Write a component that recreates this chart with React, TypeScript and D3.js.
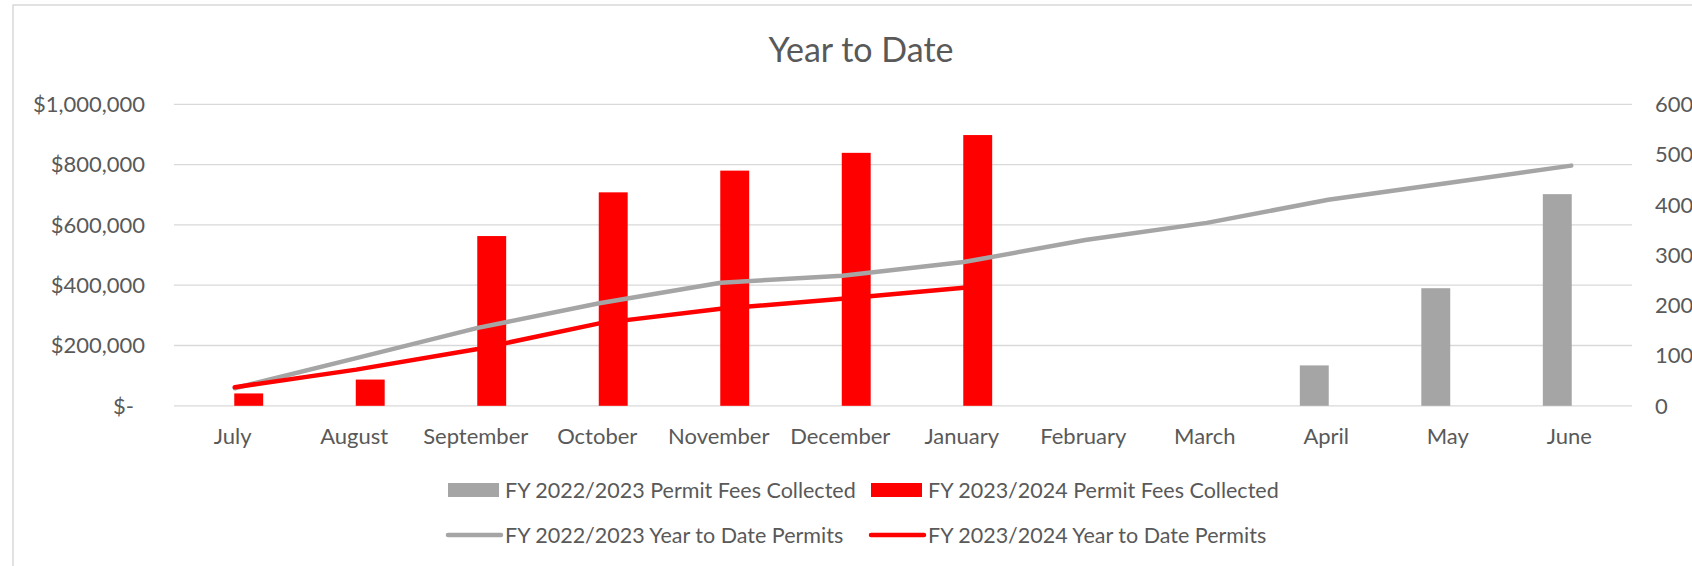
import React, { useRef, useEffect } from "react";
import * as d3 from "d3";

// chart data
const months = ["July", "August", "September", "October", "November", "December",
  "January", "February", "March", "April", "May", "June"];
const fees2223 = [null, null, null, null, null, null, null, null, null, 134000, 390000, 702000];
const fees2324 = [41000, 87000, 563000, 708000, 780000, 839000, 898000, null, null, null, null, null];
const ytd2223 = [35, 95, 155, 204, 245, 259, 286, 330, 364, 410, 444, 478];
const ytd2324 = [37, 72, 113, 164, 193, 213, 235];
const feeTicks = [0, 200000, 400000, 600000, 800000, 1000000];
const permitTicks = [0, 100, 200, 300, 400, 500, 600];
const seriesNames = [
  "FY 2022/2023 Permit Fees Collected",
  "FY 2023/2024 Permit Fees Collected",
  "FY 2022/2023 Year to Date Permits",
  "FY 2023/2024 Year to Date Permits",
];

const GRAY = "#A5A5A5";
const RED = "#FF0000";
const TEXT = "#595959";
const GRID = "#D9D9D9";
const FONT = "Lato, 'DejaVu Sans', sans-serif";

const App = () => {
  const ref = useRef<SVGSVGElement>(null);

  useEffect(() => {
    const width = 1692;
    const height = 566;
    const left = 174, right = 1632, top = 104.3, bottom = 405.8;

    const svg = d3.select(ref.current);
    svg.selectAll("*").remove();

    // chart area border (runs off the right/bottom edge like the screenshot)
    svg.append("rect")
      .attr("x", 13).attr("y", 5)
      .attr("width", width + 40).attr("height", height + 40)
      .attr("fill", "white").attr("stroke", GRID).attr("stroke-width", 1.5);

    const x = d3.scaleBand<string>().domain(months).range([left, right]);
    const bw = x.bandwidth();
    const yFee = d3.scaleLinear([0, 1000000], [bottom, top]);
    const yPermit = d3.scaleLinear([0, 600], [bottom, top]);

    svg.append("text")
      .attr("x", 861).attr("y", 61.5)
      .attr("text-anchor", "middle")
      .attr("font-size", 34).attr("fill", TEXT)
      .text("Year to Date");

    // gridlines + left axis
    svg.append("g").selectAll("line").data(feeTicks).enter().append("line")
      .attr("x1", left).attr("x2", right)
      .attr("y1", d => yFee(d)).attr("y2", d => yFee(d))
      .attr("stroke", GRID).attr("stroke-width", 1.3);

    const fmt = d3.format("$,");
    svg.append("g").selectAll("text").data(feeTicks).enter().append("text")
      .attr("x", d => d === 0 ? 134 : 145)
      .attr("y", d => yFee(d)).attr("dy", "0.35em")
      .attr("text-anchor", "end")
      .attr("font-size", 22).attr("fill", TEXT)
      .text(d => d === 0 ? "$-" : fmt(d));

    // right axis
    svg.append("g").selectAll("text").data(permitTicks).enter().append("text")
      .attr("x", 1655)
      .attr("y", d => yPermit(d)).attr("dy", "0.35em")
      .attr("font-size", 22).attr("fill", TEXT)
      .text(d => d);

    // category labels
    svg.append("g").selectAll("text").data(months).enter().append("text")
      .attr("x", d => x(d)! + bw / 2 - 2)
      .attr("y", 444)
      .attr("text-anchor", "middle")
      .attr("font-size", 22).attr("fill", TEXT)
      .text(d => d);

    // clustered bars
    const barW = bw * 0.238;
    const off = bw * 0.115;
    const barSeries = [
      { vals: fees2223, color: GRAY, shift: -off },
      { vals: fees2324, color: RED, shift: off },
    ];
    barSeries.forEach(s => {
      svg.append("g").selectAll("rect")
        .data(s.vals.map((v, i) => ({ v, m: months[i] })).filter(d => d.v != null))
        .enter().append("rect")
        .attr("x", d => x(d.m)! + bw / 2 + s.shift - barW / 2)
        .attr("y", d => yFee(d.v as number))
        .attr("width", barW)
        .attr("height", d => yFee(0) - yFee(d.v as number))
        .attr("fill", s.color);
    });

    // year to date lines on the right axis
    const line = d3.line<number>()
      .x((d, i) => x(months[i])! + bw / 2)
      .y(d => yPermit(d));
    [{ vals: ytd2223, color: GRAY }, { vals: ytd2324, color: RED }].forEach(s => {
      svg.append("path")
        .attr("d", line(s.vals))
        .attr("fill", "none")
        .attr("stroke", s.color)
        .attr("stroke-width", 4.5)
        .attr("stroke-linecap", "round")
        .attr("stroke-linejoin", "round");
    });

    // legend
    const cols = [448, 871];
    const rows = [490, 535];
    seriesNames.forEach((name, i) => {
      const cx = cols[i % 2];
      const cy = rows[Math.floor(i / 2)];
      const color = i % 2 === 0 ? GRAY : RED;
      if (i < 2) {
        svg.append("rect")
          .attr("x", cx).attr("y", cy - 7)
          .attr("width", 51).attr("height", 14)
          .attr("fill", color);
      } else {
        svg.append("line")
          .attr("x1", cx).attr("x2", cx + 53)
          .attr("y1", cy).attr("y2", cy)
          .attr("stroke", color).attr("stroke-width", 4.5)
          .attr("stroke-linecap", "round");
      }
      svg.append("text")
        .attr("x", cx + 57).attr("y", cy).attr("dy", "0.35em")
        .attr("font-size", 21.5).attr("fill", TEXT)
        .text(name);
    });
  }, []);

  return (
    <div style={{ position: "absolute", left: 0, top: 0 }}>
      <svg ref={ref} width={1692} height={566} style={{ display: "block", fontFamily: FONT }} />
    </div>
  );
};

export default App;
